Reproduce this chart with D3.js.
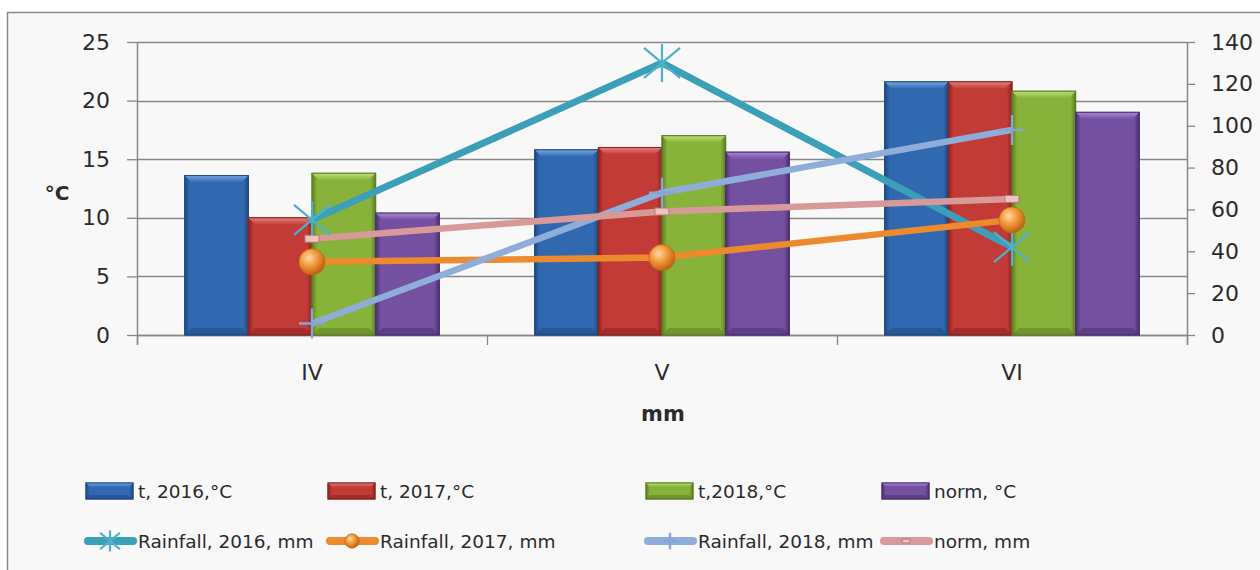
<!DOCTYPE html>
<html><head><meta charset="utf-8">
<script src="https://cdn.jsdelivr.net/npm/d3@7/dist/d3.min.js"></script>
<style>
html,body{margin:0;padding:0;background:#fff;}
svg{display:block;}
text{font-family:"DejaVu Sans",Verdana,sans-serif;fill:#2b2b2b;}
</style></head>
<body><svg id="c" width="1260" height="570"></svg>
<script>
// ---------- data ----------
const categories = ["IV", "V", "VI"];
const barSeries = ["t, 2016,°C", "t, 2017,°C", "t,2018,°C", "norm, °C"];
const t2016 = [13.6, 15.8, 21.6];
const t2017 = [10.0, 16.0, 21.6];
const t2018 = [13.8, 17.0, 20.8];
const tNorm = [10.4, 15.6, 19.0];
const lineSeries = ["Rainfall, 2016, mm", "Rainfall, 2017, mm", "Rainfall, 2018, mm", "norm, mm"];
const rain2016 = [55, 130, 42];
const rain2017 = [35, 37, 55];
const rain2018 = [5.5, 68, 98];
const rainNorm = [46, 59, 65];
const leftTicks = [0, 5, 10, 15, 20, 25];
const rightTicks = [0, 20, 40, 60, 80, 100, 120, 140];
const leftTitle = "°C";
const bottomTitle = "mm";

// ---------- styles ----------
const barColors = [
  {base:"#3169B1", light:"#76A6E0", dark:"#1E4A85"},
  {base:"#C23B37", light:"#E5807C", dark:"#8A2320"},
  {base:"#88B33A", light:"#BCE07A", dark:"#5C7D22"},
  {base:"#7350A0", light:"#A888D2", dark:"#4A3170"}
];
const lineColors = ["#3A9FB7", "#EE8A2E", "#8FADD9", "#D89A98"];

const barValues = [t2016, t2017, t2018, tNorm];
const lineValues = [rain2016, rain2017, rain2018, rainNorm];

const svg = d3.select("#c");
const W = 1260, H = 570;
const plot = {left: 137, right: 1187, top: 42, bottom: 335};

// frame
svg.append("rect").attr("x", 7.5).attr("y", 12.5).attr("width", W).attr("height", H)
  .attr("fill", "#f8f8f8").attr("stroke", "#8a8a8a").attr("stroke-width", 1.5);

const x = d3.scaleBand().domain(categories).range([plot.left, plot.right]).paddingInner(0).paddingOuter(0);
const xb = d3.scaleBand().domain(barSeries).range([0, x.bandwidth()]).paddingInner(0).paddingOuter(0.75);
const yL = d3.scaleLinear().domain([0, 25]).range([plot.bottom, plot.top]);
const yR = d3.scaleLinear().domain([0, 140]).range([plot.bottom, plot.top]);

const axisColor = "#878787";
// gridlines
svg.append("g").selectAll("line").data(leftTicks).join("line")
  .attr("x1", plot.left).attr("x2", plot.right)
  .attr("y1", d => Math.round(yL(d)) + 0.5).attr("y2", d => Math.round(yL(d)) + 0.5)
  .attr("stroke", axisColor).attr("stroke-width", 1.3);

// left axis
const gL = svg.append("g").attr("transform", `translate(${plot.left},0)`)
  .call(d3.axisLeft(yL).tickValues(leftTicks).tickSize(10).tickPadding(17));
gL.select(".domain").remove();
gL.selectAll(".tick line").attr("stroke", axisColor).attr("stroke-width", 1.3);
gL.selectAll("text").style("font-size", "22px").style("font-family", "DejaVu Sans").attr("fill", "#2b2b2b");
svg.append("line").attr("x1", plot.left + 0.5).attr("x2", plot.left + 0.5)
  .attr("y1", plot.top).attr("y2", plot.bottom + 10).attr("stroke", axisColor).attr("stroke-width", 1.5);

// right axis
const gR = svg.append("g").attr("transform", `translate(${plot.right},0)`)
  .call(d3.axisRight(yR).tickValues(rightTicks).tickSize(8).tickPadding(16));
gR.select(".domain").remove();
gR.selectAll(".tick line").attr("stroke", axisColor).attr("stroke-width", 1.3);
gR.selectAll("text").style("font-size", "22px").style("font-family", "DejaVu Sans").attr("fill", "#2b2b2b");
svg.append("line").attr("x1", plot.right + 0.5).attr("x2", plot.right + 0.5)
  .attr("y1", plot.top).attr("y2", plot.bottom + 10).attr("stroke", axisColor).attr("stroke-width", 1.5);

// bottom axis
svg.append("line").attr("x1", plot.left).attr("x2", plot.right)
  .attr("y1", plot.bottom + 0.5).attr("y2", plot.bottom + 0.5).attr("stroke", axisColor).attr("stroke-width", 1.5);
const bounds = categories.map(c => x(c)).concat([x(categories[categories.length - 1]) + x.bandwidth()]);
svg.append("g").selectAll("line").data(bounds).join("line")
  .attr("x1", d => d + 0.5).attr("x2", d => d + 0.5).attr("y1", plot.bottom).attr("y2", plot.bottom + 10)
  .attr("stroke", axisColor).attr("stroke-width", 1.3);
svg.append("g").selectAll("text").data(categories).join("text")
  .attr("x", d => x(d) + x.bandwidth() / 2).attr("y", 372)
  .attr("text-anchor", "middle").attr("dominant-baseline", "central")
  .style("font-size", "22px").text(d => d);

// axis titles
svg.append("text").attr("x", 57).attr("y", 193).attr("text-anchor", "middle").attr("dominant-baseline", "central")
  .style("font-size", "20px").style("font-weight", "bold").text(leftTitle);
svg.append("text").attr("x", 663).attr("y", 414).attr("text-anchor", "middle").attr("dominant-baseline", "central")
  .style("font-size", "21px").style("font-weight", "bold").text(bottomTitle);

// ---------- bevel bar drawing ----------
const defs = svg.append("defs");
barColors.forEach((c, i) => {
  const g = defs.append("linearGradient").attr("id", "bg" + i).attr("x1", 0).attr("x2", 1).attr("y1", 0).attr("y2", 0);
  g.append("stop").attr("offset", "0").attr("stop-color", c.dark);
  g.append("stop").attr("offset", "0.08").attr("stop-color", c.base);
  g.append("stop").attr("offset", "0.92").attr("stop-color", c.base);
  g.append("stop").attr("offset", "1").attr("stop-color", c.dark);
  const t = defs.append("linearGradient").attr("id", "bt" + i).attr("x1", 0).attr("x2", 0).attr("y1", 0).attr("y2", 1);
  t.append("stop").attr("offset", "0").attr("stop-color", c.light);
  t.append("stop").attr("offset", "1").attr("stop-color", c.base);
});
function bevelBar(g, bx, by, bw, bh, i, bev) {
  const c = barColors[i];
  g.append("rect").attr("x", bx).attr("y", by).attr("width", bw).attr("height", bh)
    .attr("fill", `url(#bg${i})`).attr("stroke", c.dark).attr("stroke-width", 1);
  if (bh > bev * 2) {
    g.append("path").attr("d", `M${bx},${by}L${bx + bw},${by}L${bx + bw - bev},${by + bev}L${bx + bev},${by + bev}Z`)
      .attr("fill", `url(#bt${i})`);
    g.append("path").attr("d", `M${bx},${by + bh}L${bx + bw},${by + bh}L${bx + bw - bev},${by + bh - bev}L${bx + bev},${by + bh - bev}Z`)
      .attr("fill", c.dark).attr("opacity", 0.55);
    g.append("rect").attr("x", bx).attr("y", by).attr("width", bw).attr("height", bh)
      .attr("fill", "none").attr("stroke", c.dark).attr("stroke-width", 1);
  }
}
const barsG = svg.append("g");
categories.forEach((cat, ci) => {
  barSeries.forEach((s, si) => {
    const v = barValues[si][ci];
    const bx = x(cat) + xb(s), bw = xb.bandwidth();
    const by = yL(v), bh = yL(0) - yL(v);
    bevelBar(barsG, bx, by, bw, bh, si, 7);
  });
});

// ---------- lines ----------
const orangeGrad = defs.append("radialGradient").attr("id", "og").attr("cx", "0.38").attr("cy", "0.35").attr("r", "0.7");
orangeGrad.append("stop").attr("offset", "0").attr("stop-color", "#FFD9A8");
orangeGrad.append("stop").attr("offset", "0.45").attr("stop-color", "#F39A3C");
orangeGrad.append("stop").attr("offset", "1").attr("stop-color", "#B85A0C");

function marker(g, kind, cx, cy, k) {
  if (kind === 0) {
    const s = 19 * k, dx = 18 * k, dy = 15 * k;
    g.append("path").attr("d", `M${cx},${cy - s}L${cx},${cy + s}M${cx - dx},${cy - dy}L${cx + dx},${cy + dy}M${cx - dx},${cy + dy}L${cx + dx},${cy - dy}`)
      .attr("stroke", "#4DB2CA").attr("stroke-width", 2.2).attr("fill", "none");
  } else if (kind === 1) {
    g.append("circle").attr("cx", cx).attr("cy", cy).attr("r", 13 * k).attr("fill", "url(#og)")
      .attr("stroke", "#C76814").attr("stroke-width", 0.8);
  } else if (kind === 2) {
    g.append("path").attr("d", `M${cx},${cy - 15 * k}L${cx},${cy + 15 * k}M${cx - 13 * k},${cy}L${cx + 13 * k},${cy}`)
      .attr("stroke", "#87A5D4").attr("stroke-width", 2.4).attr("fill", "none");
  } else {
    g.append("rect").attr("x", cx - 7 * k).attr("y", cy - 3.5 * k).attr("width", 14 * k).attr("height", 7 * k)
      .attr("fill", "#EDC2C0").attr("stroke", "#B47A78").attr("stroke-width", 1);
  }
}

const lineGen = d3.line().x(d => x(d.c) + x.bandwidth() / 2).y(d => yR(d.v));
const linesG = svg.append("g");
lineValues.forEach((vals, si) => {
  const pts = categories.map((c, i) => ({c, v: vals[i]}));
  linesG.append("path").attr("d", lineGen(pts)).attr("fill", "none")
    .attr("stroke", lineColors[si]).attr("stroke-width", si === 0 ? 7 : 6.5)
    .attr("stroke-linejoin", "miter").attr("stroke-linecap", "butt");
});
lineValues.forEach((vals, si) => {
  categories.forEach((c, i) => {
    marker(linesG, si, x(c) + x.bandwidth() / 2, yR(vals[i]), 1);
  });
});

// ---------- legend ----------
const legCols = [84, 326, 644, 880];
const legRow1 = 491, legRow2 = 541;
const legG = svg.append("g");
barSeries.forEach((s, i) => {
  const lx = legCols[i] + 2;
  bevelBar(legG, lx, legRow1 - 8, 47, 16, i, 4);
  legG.append("text").attr("x", lx + 52).attr("y", legRow1).attr("dominant-baseline", "central")
    .style("font-size", "18.5px").text(s);
});
lineSeries.forEach((s, i) => {
  const lx = legCols[i];
  legG.append("line").attr("x1", lx + 4).attr("x2", lx + 49).attr("y1", legRow2).attr("y2", legRow2)
    .attr("stroke", lineColors[i]).attr("stroke-width", 8).attr("stroke-linecap", "round");
  marker(legG, i, lx + 26, legRow2, 0.55);
  legG.append("text").attr("x", lx + 54).attr("y", legRow2).attr("dominant-baseline", "central")
    .style("font-size", "18.5px").text(s);
});
</script></body></html>
